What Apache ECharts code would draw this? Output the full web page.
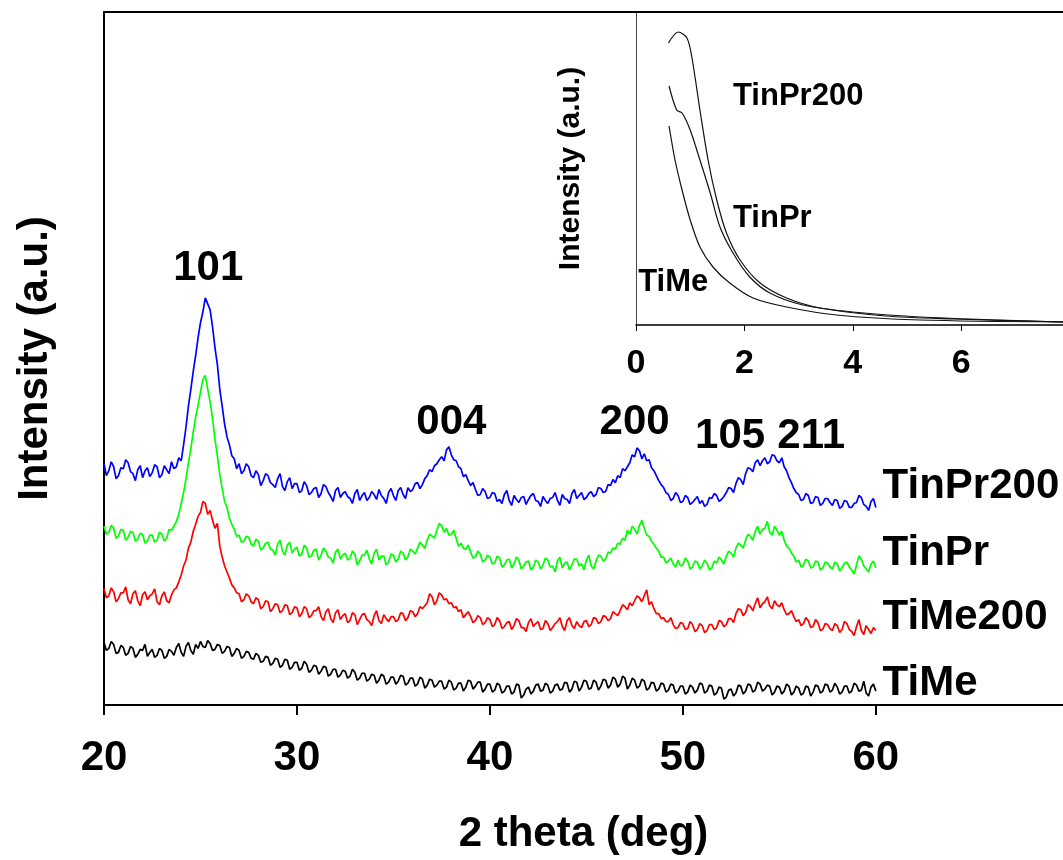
<!DOCTYPE html>
<html>
<head>
<meta charset="utf-8">
<title>XRD</title>
<script src="https://cdn.jsdelivr.net/npm/echarts@6/dist/echarts.min.js"></script>
<style>
  html, body { margin: 0; padding: 0; background: #fff; }
  #chart { width: 1063px; height: 860px; }
</style>
</head>
<body>
<div id="chart"></div>
<script>
// main patterns, read every 0.125 deg from 20 to 60 (offset intensities, a.u.)
var thetaStart = 20, thetaStep = 0.125;

var tinPr200 = [
  243,231,236,245,240,228,231,239,238,247,244,235,233,226,237,241,229,236,239,230,
  234,242,240,229,232,241,237,233,245,238,240,249,246,262,280,301,318,336,352,370,
  385,396,410,404,398,381,360,343,318,301,283,270,262,251,248,238,243,233,236,243,
  240,231,229,236,232,221,226,233,231,224,222,219,228,233,220,216,225,229,218,223,
  223,214,216,225,221,212,214,218,219,209,213,222,220,214,210,205,216,219,209,213,
  215,210,208,203,213,217,206,211,214,206,209,215,212,207,217,211,208,203,214,218,
  211,206,216,219,212,208,219,215,217,223,224,218,222,228,231,237,235,241,243,247,
  250,246,257,260,252,247,246,240,238,230,232,226,221,224,217,211,212,218,215,208,
  209,214,213,205,207,203,212,216,206,201,211,207,204,209,210,202,207,211,213,206,
  205,200,210,206,203,208,209,214,206,201,212,208,207,203,213,217,208,211,214,207,
  209,213,215,210,212,219,218,214,215,222,221,227,224,231,229,238,236,240,244,252,
  250,259,256,248,253,246,247,239,236,231,226,222,219,214,212,206,208,214,211,204,
  205,211,209,202,204,207,210,203,206,200,202,209,208,213,211,205,207,210,214,219,
  218,214,223,229,227,222,233,239,238,235,244,247,241,246,249,243,245,252,251,246,
  244,249,240,236,229,224,218,214,212,206,207,213,211,203,204,210,209,201,203,208,
  208,204,201,207,206,198,200,206,205,199,199,203,204,211,209,202,200,196,205,208,
  199];

var tinPr = [
  180,172,174,181,178,168,170,177,176,166,169,175,174,165,167,173,172,163,165,171,
  171,164,166,174,172,165,168,177,176,180,185,192,203,214,228,244,258,275,290,302,
  315,328,332,318,305,289,268,251,232,218,205,199,188,182,177,170,171,164,165,170,
  169,162,160,167,165,156,158,163,164,157,156,151,162,166,155,151,161,164,153,157,
  159,150,152,161,158,149,150,156,157,146,151,158,155,149,148,143,154,157,147,151,
  153,146,148,155,152,141,145,151,151,156,147,142,153,157,146,150,150,141,144,152,
  151,144,147,155,153,146,149,157,155,152,158,164,161,158,166,172,170,168,176,183,
  181,174,178,171,172,176,168,160,163,158,157,161,154,148,149,155,152,144,146,151,
  149,142,143,150,148,139,141,146,147,138,142,149,146,137,140,144,145,136,139,146,
  144,137,141,148,146,139,140,134,145,149,138,143,144,136,141,147,147,140,142,136,
  146,151,140,137,145,151,150,145,147,154,153,158,157,163,162,168,166,176,172,180,
  177,172,181,186,178,171,170,165,162,158,155,149,149,143,145,148,142,139,146,140,
  141,148,145,137,139,145,144,137,140,146,143,136,138,145,143,149,146,142,150,155,
  153,149,158,163,161,158,166,172,170,166,175,180,172,177,178,185,174,171,180,176,
  171,175,166,160,158,153,150,144,146,139,141,147,145,138,139,145,144,136,138,144,
  143,139,137,144,142,135,138,143,144,139,136,132,141,150,147,140,137,134,142,145,
  138];

var tiMe200 = [
  117,108,110,118,114,104,107,113,113,119,106,102,112,115,105,100,111,114,106,110,
  112,117,104,101,110,114,105,103,111,116,118,124,131,140,146,158,164,175,182,190,
  194,205,203,192,196,186,178,183,160,149,140,134,128,121,118,113,112,104,106,112,
  110,104,102,108,106,97,99,105,104,94,97,102,101,93,95,101,100,91,93,99,
  98,89,92,99,97,88,90,95,95,99,89,85,94,97,87,83,93,96,86,90,
  92,83,85,93,91,81,86,91,92,86,84,80,90,95,85,82,91,87,84,89,
  89,84,86,93,92,85,88,95,94,89,92,99,97,100,103,112,109,101,105,113,
  111,106,107,102,103,98,99,94,96,88,91,94,89,83,85,90,88,81,83,88,
  86,79,81,88,85,77,79,83,84,76,80,87,85,78,78,74,83,87,79,82,
  84,76,77,85,82,75,78,82,84,88,79,75,85,88,80,77,84,80,78,84,
  85,79,81,88,87,82,84,90,89,85,87,94,92,90,95,101,99,96,103,100,
  105,110,108,104,110,116,101,104,97,92,92,87,88,84,84,88,81,77,78,83,
  82,76,77,84,81,74,76,82,80,73,75,81,81,76,78,85,84,79,81,87,
  87,83,92,97,96,90,93,101,99,95,102,108,98,102,104,109,100,97,105,101,
  99,103,96,91,92,95,89,84,86,80,82,88,85,78,79,86,83,75,76,82,
  81,77,75,82,80,73,76,84,82,76,74,70,79,86,75,71,80,76,72,78,
  75];

var tiMe = [
  63,55,57,64,61,52,53,60,58,50,52,59,57,48,51,56,55,61,49,53,
  56,48,50,57,55,47,49,56,54,50,58,62,53,49,59,63,55,51,61,57,
  64,59,58,65,62,55,56,61,60,52,54,59,58,49,52,57,55,47,49,54,
  53,47,46,52,50,43,44,49,48,40,42,47,46,38,40,46,45,36,38,43,
  43,35,37,44,41,33,35,40,39,31,34,39,38,29,31,36,36,28,30,35,
  34,27,29,36,33,25,27,32,32,24,26,31,30,22,25,31,29,21,23,28,
  28,21,24,30,29,20,22,27,27,19,21,28,26,17,20,26,25,18,20,24,
  24,16,18,25,23,15,17,22,22,14,18,25,24,16,19,23,23,13,16,21,
  21,13,15,22,20,12,14,19,19,11,13,21,20,7,10,16,18,11,14,20,
  21,14,15,22,20,12,14,20,21,15,16,23,22,13,16,24,23,14,18,25,
  24,16,17,25,23,15,19,26,25,17,20,28,26,18,21,29,27,16,20,27,
  25,17,19,26,24,15,17,23,22,14,16,22,21,13,15,21,20,12,14,19,
  19,11,13,20,18,12,15,22,21,12,14,20,19,10,12,18,17,6,8,15,
  16,9,12,20,19,11,14,21,20,13,15,23,21,14,16,20,19,10,13,19,
  18,11,14,21,19,10,13,19,17,10,12,19,18,9,13,20,19,12,14,21,
  20,13,15,22,18,11,13,19,19,12,14,22,20,14,15,24,12,9,18,21,
  14];

var seriesNames = ['TinPr200', 'TinPr', 'TiMe200', 'TiMe'];
var seriesColors = ['#0000ff', '#00ff00', '#ff0000', '#000000'];

var mainTicks = [20, 30, 40, 50, 60];
var insetTicks = [0, 2, 4, 6];

// reflection labels: hkl, 2theta, height
var peakNames = ['101', '004', '200', '105', '211'];
var peakTheta = [25.4, 38.0, 47.5, 52.45, 56.65];
var peakHeight = [440, 285, 285, 271, 271];

// curve names at the right end
var nameTheta = 60.35;
var nameHeight = [220, 153, 88, 22];

// inset (low angle) curves
var insetX200 = [0.6, 0.78, 0.94, 1.03, 1.18, 1.33, 1.49, 1.67, 1.92, 2.29, 2.78, 3.4, 4.6, 5.85, 7.88];
var insetY200 = [282, 293, 287, 268, 215, 165, 125, 92, 65, 42, 27, 17, 9, 6, 3];
var insetXPr = [0.61, 0.75, 0.85, 1.0, 1.18, 1.37, 1.55, 1.79, 2.1, 2.47, 3.08, 4.0, 5.24, 7.88];
var insetYPr = [239, 215, 212, 195, 165, 132, 98, 72, 48, 32, 20, 13, 8, 3];
var insetXMe = [0.61, 0.72, 0.85, 1.0, 1.18, 1.42, 1.73, 2.16, 2.78, 3.7, 5.24, 7.88];
var insetYMe = [199, 165, 135, 105, 78, 58, 42, 27, 18, 10, 5, 3];
var insetNames = ['TinPr200', 'TinPr', 'TiMe'];
var insetNameX = [1.79, 1.79, 0.04];
var insetNameY = [229, 107, 43];

function pairs(xs, ys) {
  return ys.map(function (y, i) { return [xs[i], y]; });
}
function scan(values) {
  return values.map(function (v, i) { return [thetaStart + i * thetaStep, v]; });
}

var font = '"Liberation Sans", Arial, sans-serif';
var chart = echarts.init(document.getElementById('chart'));

var mainLines = [tinPr200, tinPr, tiMe200, tiMe].map(function (vals, k) {
  return {
    name: seriesNames[k], type: 'line', xAxisIndex: 0, yAxisIndex: 0,
    data: scan(vals), showSymbol: false, silent: true, sampling: null,
    lineStyle: { color: seriesColors[k], width: 1.7 }, z: 3
  };
});

var insetLines = [[insetX200, insetY200], [insetXPr, insetYPr], [insetXMe, insetYMe]].map(function (c, k) {
  return {
    name: 'inset ' + insetNames[k], type: 'line', xAxisIndex: 2, yAxisIndex: 1,
    data: pairs(c[0], c[1]), showSymbol: false, silent: true, smooth: 0.3,
    lineStyle: { color: '#111', width: 1.2 }
  };
});

function textSeries(name, xi, yi, names, xs, ys, pos, size) {
  return {
    name: name, type: 'scatter', xAxisIndex: xi, yAxisIndex: yi, symbolSize: 0, silent: true,
    itemStyle: { opacity: 1, color: '#000' },
    data: names.map(function (n, i) { return { name: n, value: [xs[i], ys[i]] }; }),
    label: {
      show: true, position: pos, distance: 0, formatter: '{b}', opacity: 1,
      fontFamily: font, fontWeight: 'bold', fontSize: size, color: '#000'
    }
  };
}

var option = {
  backgroundColor: '#fff',
  animation: false,
  grid: [
    { left: 104, right: 0, top: 12, bottom: 150 },
    { left: 636, right: 0, top: 12, bottom: 535 }
  ],
  xAxis: [
    {
      gridIndex: 0, type: 'value', min: 20, max: 69.7, interval: 10,
      name: '2 theta (deg)', nameLocation: 'middle', nameGap: 108,
      nameTextStyle: { fontFamily: font, fontWeight: 'bold', fontSize: 42, color: '#000' },
      axisLine: { lineStyle: { color: '#000', width: 2 } },
      axisTick: { length: 10, customValues: mainTicks, lineStyle: { color: '#000', width: 2 } },
      axisLabel: {
        margin: 32, customValues: mainTicks,
        fontFamily: font, fontWeight: 'bold', fontSize: 42, color: '#000'
      },
      splitLine: { show: false }
    },
    {
      gridIndex: 0, type: 'value', position: 'top', min: 20, max: 69.7,
      axisLine: { lineStyle: { color: '#000', width: 2 } },
      axisTick: { show: false }, axisLabel: { show: false }, splitLine: { show: false }
    },
    {
      gridIndex: 1, type: 'value', min: 0, max: 7.88, interval: 2,
      axisLine: { onZero: false, lineStyle: { color: '#000', width: 1.5 } },
      axisTick: { length: 6, customValues: insetTicks, lineStyle: { color: '#000', width: 1 } },
      axisLabel: {
        margin: 22, customValues: insetTicks,
        fontFamily: font, fontWeight: 'bold', fontSize: 34, color: '#000'
      },
      splitLine: { show: false }
    }
  ],
  yAxis: [
    {
      gridIndex: 0, type: 'value', min: 0, max: 698,
      name: 'Intensity (a.u.)', nameLocation: 'middle', nameGap: 48, nameRotate: 90,
      nameTextStyle: { fontFamily: font, fontWeight: 'bold', fontSize: 42, color: '#000' },
      axisLine: { lineStyle: { color: '#000', width: 2 } },
      axisTick: { show: false }, axisLabel: { show: false }, splitLine: { show: false }
    },
    {
      gridIndex: 1, type: 'value', min: 0, max: 313,
      name: 'Intensity (a.u.)', nameLocation: 'middle', nameGap: 50, nameRotate: 90,
      nameTextStyle: { fontFamily: font, fontWeight: 'bold', fontSize: 30, color: '#000' },
      axisLine: { lineStyle: { color: '#444', width: 1 } },
      axisTick: { show: false }, axisLabel: { show: false }, splitLine: { show: false }
    }
  ],
  series: mainLines.concat(insetLines).concat([
    textSeries('peaks', 0, 0, peakNames, peakTheta, peakHeight, 'inside', 42),
    textSeries('names', 0, 0, seriesNames,
      seriesNames.map(function () { return nameTheta; }), nameHeight, 'right', 42),
    textSeries('inset names', 2, 1, insetNames, insetNameX, insetNameY, 'right', 31)
  ])
};

chart.setOption(option);
</script>
</body>
</html>
